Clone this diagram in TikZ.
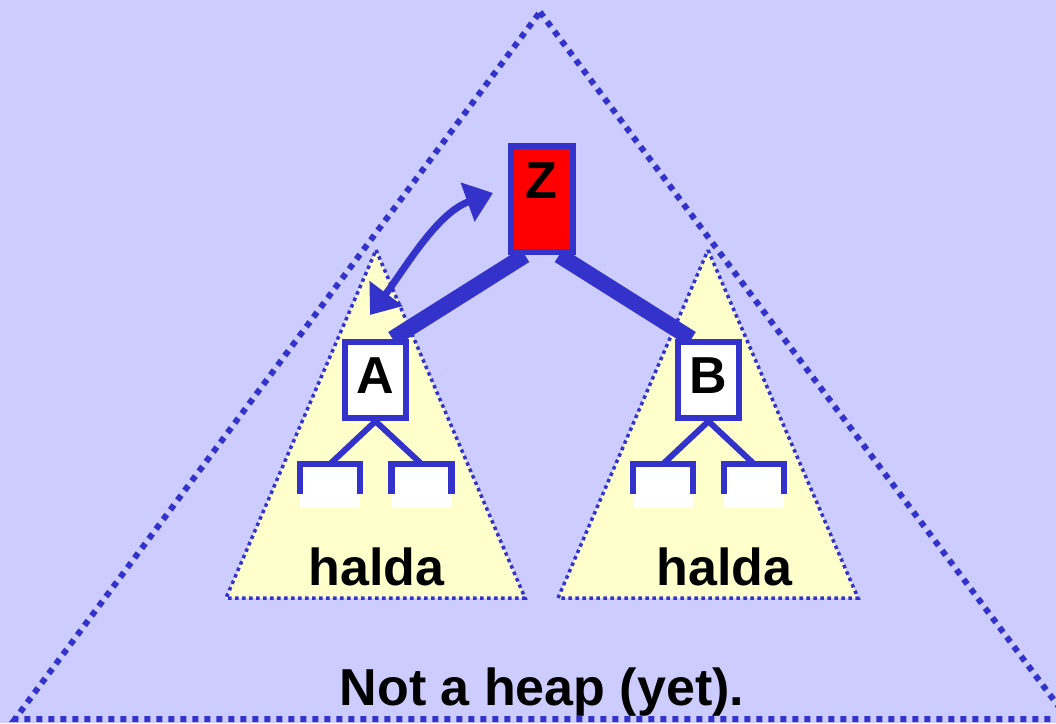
\documentclass[tikz,border=0pt]{standalone}
\usepackage{fontspec}
\setmainfont{Liberation Sans}
\usetikzlibrary{arrows.meta}
\definecolor{bgc}{RGB}{204,204,255}
\definecolor{blu}{RGB}{51,51,204}
\definecolor{ylw}{RGB}{255,255,204}
\definecolor{redc}{RGB}{255,0,0}
\begin{document}
\begin{tikzpicture}[x=1pt,y=-1pt,
  bigdots/.style={draw=blu,line width=6pt,dash pattern=on 6pt off 6pt},
  heapdots/.style={draw=blu,fill=ylw,line width=3.5pt,dash pattern=on 3.5pt off 3.5pt},
  keybox/.style={draw=blu,line width=6.5pt,inner sep=0pt,minimum width=61pt,minimum height=76pt,fill=white},
  leafbox/.style={fill=white,draw=none,inner sep=0pt,minimum width=60pt,minimum height=44pt,anchor=north},
  leafedge/.style={draw=blu,line width=6.5pt},
  thin/.style={draw=blu,line width=6pt},
  thick/.style={draw=blu,line width=16pt},
  lbl/.style={font=\bfseries\fontsize{52}{60}\selectfont,inner sep=0pt,anchor=base},
  swaparrow/.style={draw=blu,line width=7pt,{Triangle[length=27pt,width=40pt]}-{Triangle[length=27pt,width=40pt]}}
]
\useasboundingbox (0,0) rectangle (1056,723);
\fill[bgc] (0,0) rectangle (1056,723);
% big triangle
\begin{scope}
\clip (0,0) rectangle (1056,723);
\draw[bigdots] (540,12) -- (1068,719) -- (15,719) -- cycle;
\end{scope}
% heap triangles
\draw[heapdots] (376,250) -- (525,598) -- (226,598) -- cycle;
\draw[heapdots] (708,250) -- (858,598) -- (558,598) -- cycle;
% nodes
\node[keybox,fill=redc,minimum width=62pt,minimum height=106pt] (Z) at (542,199) {};
\node[keybox] (A) at (375.5,380) {};
\node[keybox] (B) at (708.5,380) {};
\node[leafbox] (a1) at (330,464) {};
\node[leafbox] (a2) at (421.5,464) {};
\node[leafbox] (b1) at (663,464) {};
\node[leafbox] (b2) at (754,464) {};
\foreach \n in {a1,a2,b1,b2}{
  \draw[leafedge] ([yshift=-30pt]\n.north west) -- (\n.north west) -- (\n.north east) -- ([yshift=-30pt]\n.north east);
}
\draw[thin] (A.south) -- (a1.north);
\draw[thin] (A.south) -- (a2.north);
\draw[thin] (B.south) -- (b1.north);
\draw[thin] (B.south) -- (b2.north);
\draw[thick] ([xshift=-17pt]Z.south) -- ([xshift=17pt]A.north);
\draw[thick] ([xshift=17pt]Z.south) -- ([xshift=-17pt]B.north);
% redraw boxes on top
\node[keybox,fill=redc,minimum width=62pt,minimum height=106pt] at (Z) {};
\node[keybox] at (A) {};
\node[keybox] at (B) {};
% labels
\node[lbl] (tZ) at (541.5,198) {Z};
\node[lbl] (tA) at (375.5,393) {A};
\node[lbl] (tB) at (708.5,393) {B};
\node[lbl] (h1) at (376.5,585) {halda};
\node[lbl] (h2) at (724.5,585) {halda};
\node[lbl] (nh) at (542,705) {Not a heap (yet).};
% swap arrow
\coordinate (s1) at (370,315);
\coordinate (s2) at (493,193);
\draw[swaparrow] (s1) .. controls (406,267) and (437,213) .. (s2);
\end{tikzpicture}
\end{document}
